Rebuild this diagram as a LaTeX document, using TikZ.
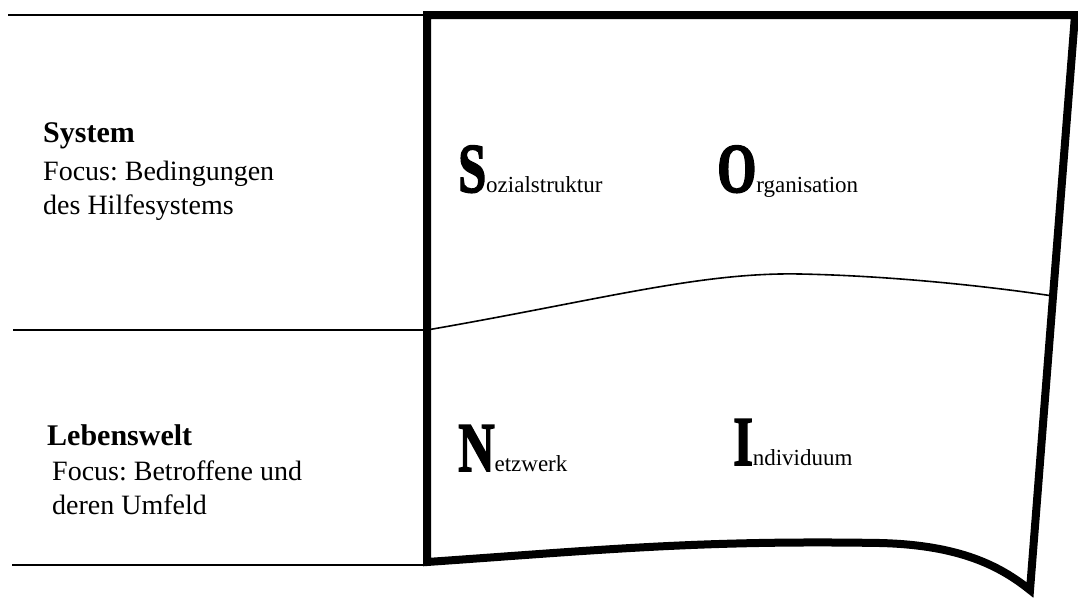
\documentclass[tikz,border=0pt]{standalone}
\usepackage{fontspec}
\setmainfont{Liberation Serif}
\newfontfamily\heavyfont{Liberation Serif}[BoldFeatures={FakeBold=2.5}]
\usepackage{graphicx}
\usepackage{tikz}
\frenchspacing

\newcommand{\bigletter}[1]{{\fontsize{70}{70}\heavyfont\bfseries\scalebox{0.72}[1]{#1}}}

\begin{document}
\begin{tikzpicture}[x=1pt, y=-1pt,
    thinrule/.style={line width=1.6pt},
    frame/.style={line width=8pt, line join=miter},
    heading/.style={anchor=base west, inner sep=0pt, font=\fontsize{30}{34}\selectfont\bfseries},
    focus/.style={anchor=north west, inner sep=0pt, align=left, font=\fontsize{28}{34}\selectfont},
    quadrant/.style={anchor=base west, inner sep=0pt, font=\fontsize{23}{28}\selectfont}]

    \useasboundingbox (0,0) rectangle (1078,597);

    % corners of the frame
    \coordinate (tl) at (427,15);
    \coordinate (tr) at (1075,15);
    \coordinate (br) at (1030,590);
    \coordinate (bl) at (427,562);
    \coordinate (ml) at (427,330);
    \coordinate (mr) at (1053,296);

    % left ends of the rules
    \coordinate (t0) at (8,15);
    \coordinate (m0) at (13,330);
    \coordinate (b0) at (12,565);

    % rules on the left
    \draw[thinrule] (t0) -- (tl);
    \draw[thinrule] (m0) -- (ml);
    \draw[thinrule] (b0) -- (bl |- b0);

    % frame
    \draw[frame] (tl) -- (tr) -- (br)
        .. controls (1000,566) and (960,545) .. (880,543)
        .. controls (700,540) and (600,550) .. (bl) -- cycle;

    % border between system and lebenswelt
    \draw[thinrule] (ml) .. controls (600,300) and (700,272) .. (800,274)
        .. controls (900,276) and (1000,288) .. (mr);

    % system
    \node[heading] (system) at (43,142) {System};
    \node[focus] (sysfocus) at (43,161) {Focus: Bedingungen\\des Hilfesystems};

    % lebenswelt
    \node[heading] (lebenswelt) at (47,445) {Lebenswelt};
    \node[focus] (lwfocus) at (52,461) {Focus: Betroffene und\\deren Umfeld};

    % quadrants
    \node[quadrant] (sozial) at (458,192) {\bigletter{S}ozialstruktur};
    \node[quadrant] (orga) at (717,192) {\bigletter{O}rganisation};
    \node[quadrant] (netz) at (458,471) {\bigletter{N}etzwerk};
    \node[quadrant] (indiv) at (733,465) {\bigletter{I}ndividuum};

\end{tikzpicture}
\end{document}
